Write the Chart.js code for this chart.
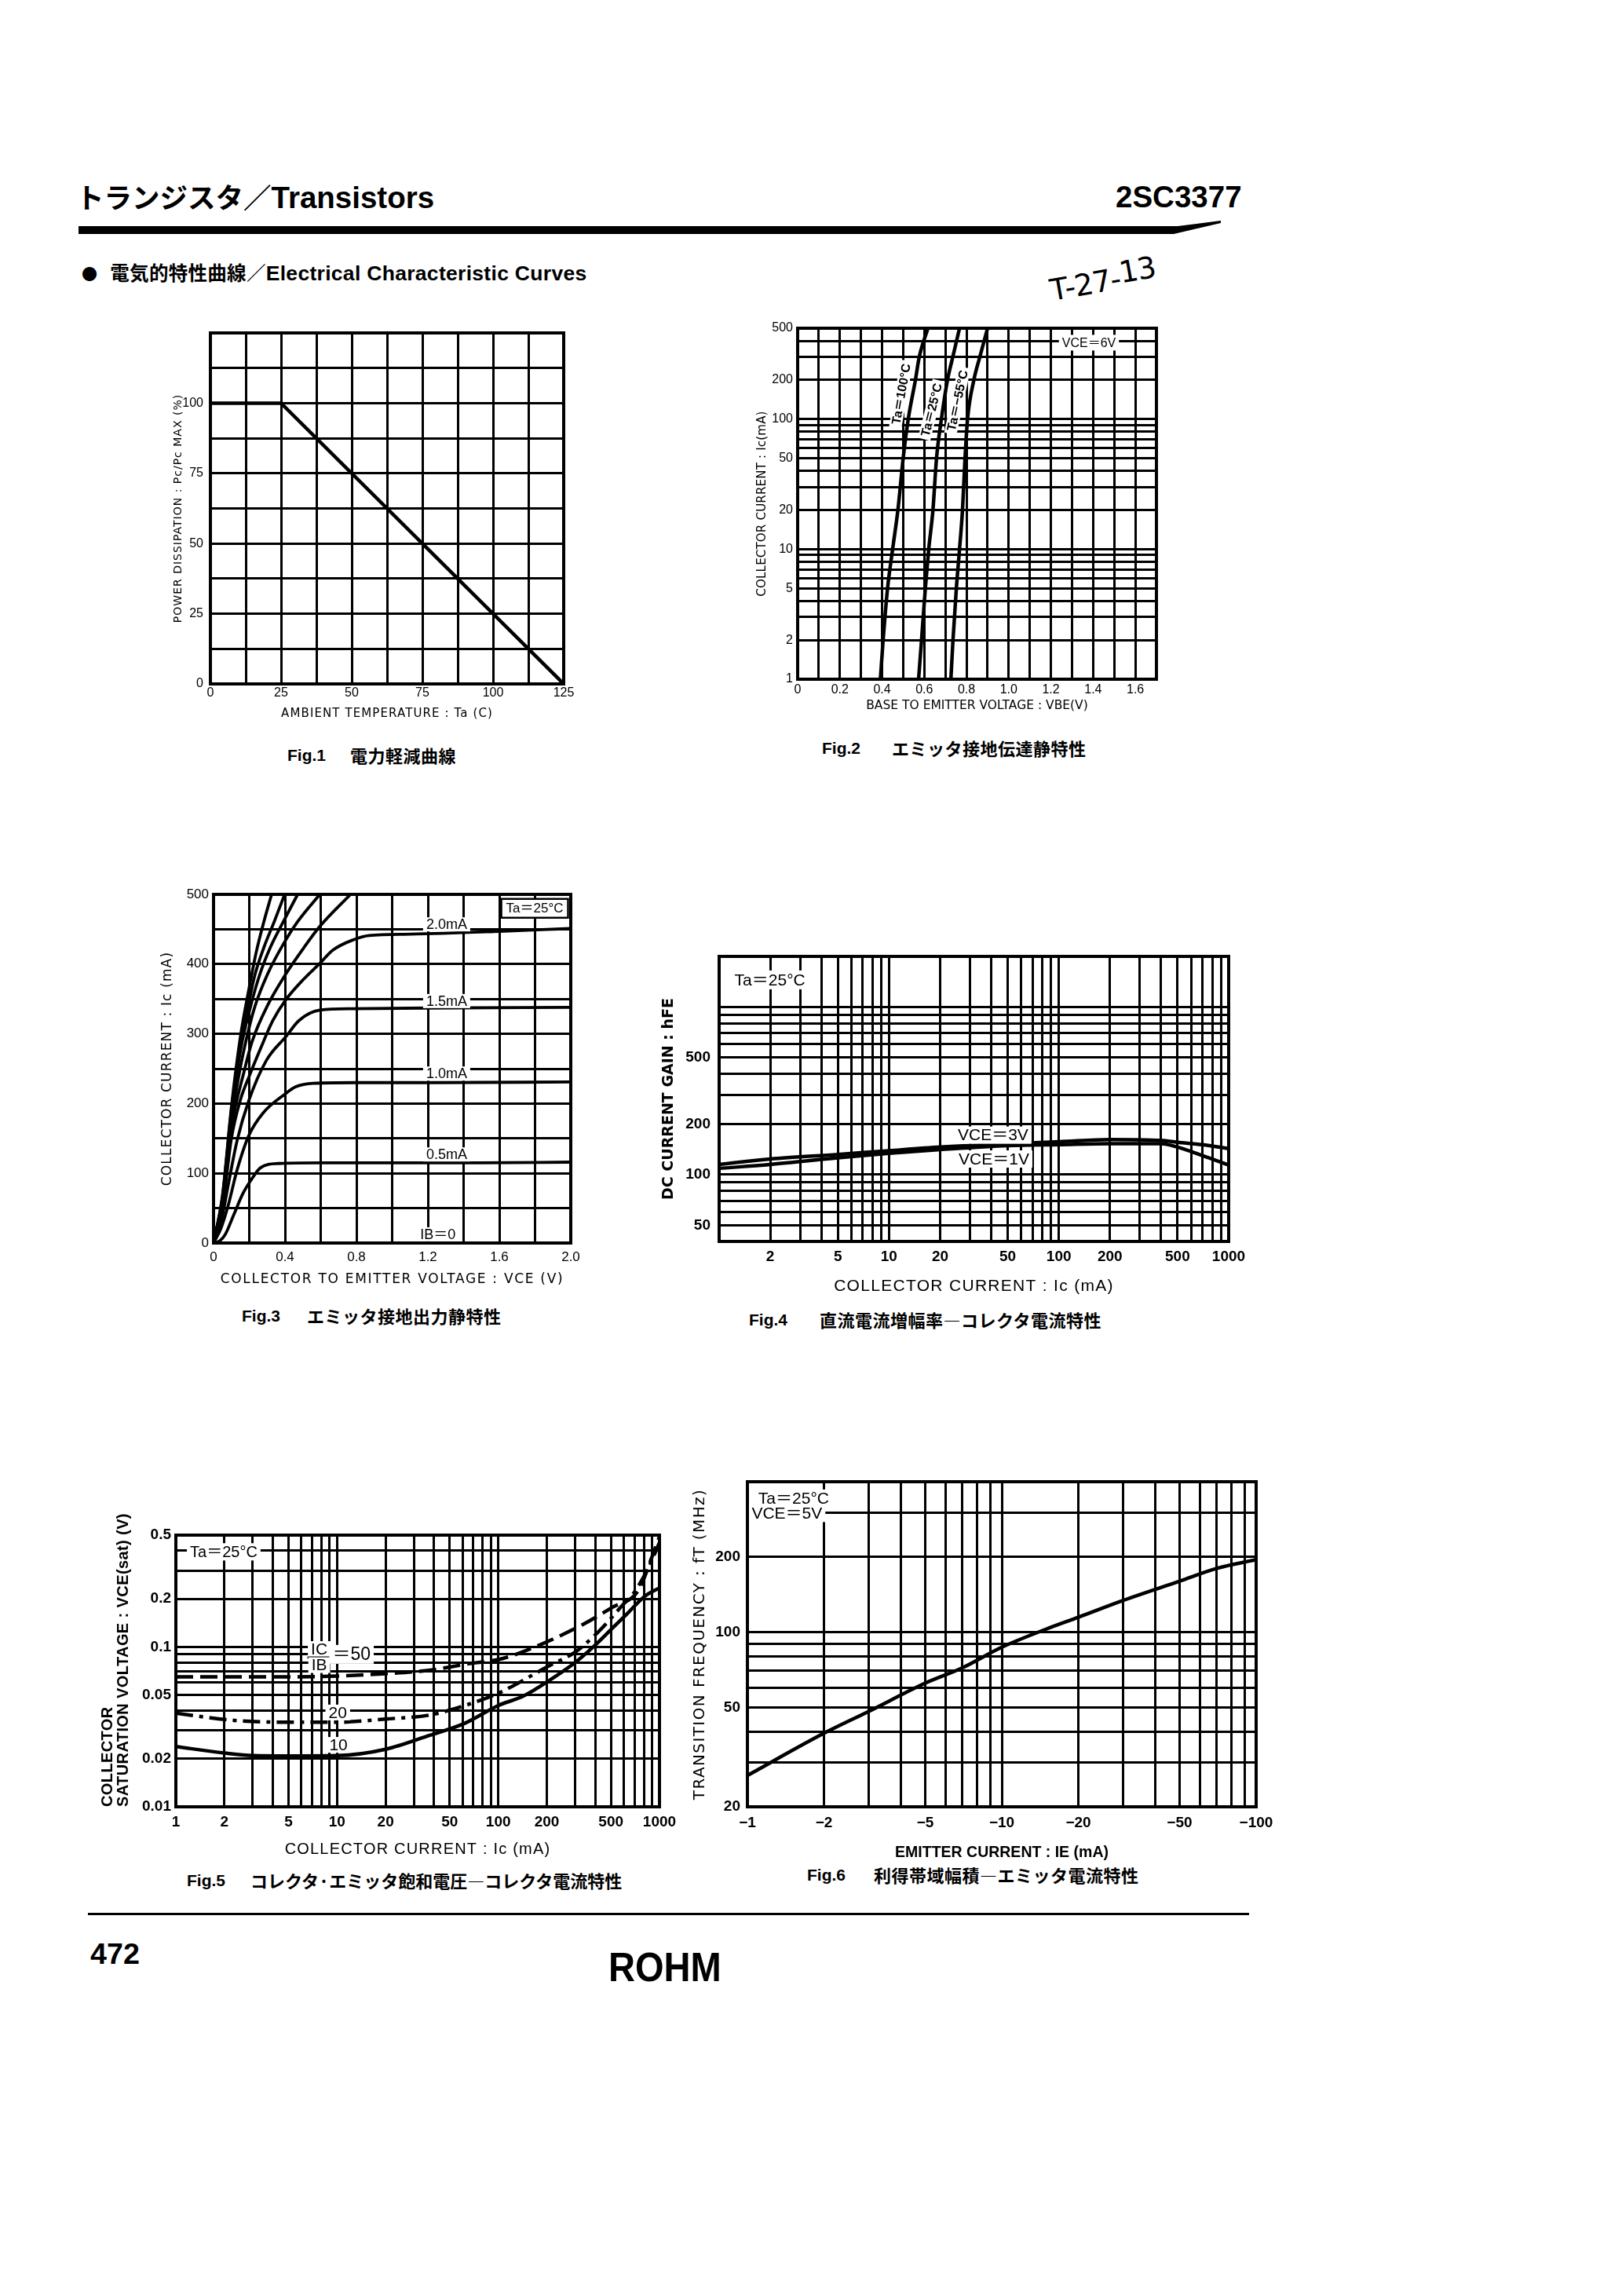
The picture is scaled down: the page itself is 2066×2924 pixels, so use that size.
<!DOCTYPE html>
<html lang="ja">
<head>
<meta charset="UTF-8">
<title>2SC3377 Electrical Characteristic Curves</title>
<script src="https://cdn.jsdelivr.net/npm/chart.js"></script>
<style>
  * { margin: 0; padding: 0; box-sizing: border-box; }
  html, body { width: 2066px; height: 2924px; background: #fff; overflow: hidden; }
  body { position: relative; color: #000; font-family: "Liberation Sans", Arial, "Noto Sans CJK JP", sans-serif; }
  .abs { position: absolute; white-space: nowrap; line-height: 1; }
  .j { font-family: "Noto Sans CJK JP", sans-serif; }
  canvas { position: absolute; }
  .cap { font-weight: bold; font-size: 21px; }
  .cap .j { position: absolute; top: -1px; font-size: 22px; letter-spacing: 0.5px; }
</style>
</head>
<body>

<!-- page header -->
<div class="abs" style="left:97px; top:232px; font-size:38.5px; font-weight:bold;"><span class="j" style="font-size:35.5px;">トランジスタ／</span>Transistors</div>
<div class="abs" style="left:1421px; top:232px; font-size:38.5px; font-weight:bold;">2SC3377</div>
<div class="abs" style="left:100px; top:281px; width:1455px; height:18px; background:#000;
     clip-path: polygon(0 7px, 1400px 7px, 1455px 0, 1455px 3px, 1395px 17px, 0 17px);"></div>
<div class="abs" style="left:104px; top:335px; font-size:26.5px; font-weight:bold; letter-spacing:0.3px;"><span class="j" style="font-size:20px;">●</span><span class="j" style="font-size:24.5px; margin-left:16px;">電気的特性曲線／</span>Electrical Characteristic Curves</div>
<div class="abs" style="left:1341px; top:351px; font-family:'DejaVu Sans', sans-serif; font-size:38px; letter-spacing:-1px; transform-origin:left bottom; transform:rotate(-10deg);">T-27-<span style="position:relative; top:-7px;">13</span></div>

<!-- figure captions -->
<div class="abs cap" style="left:366px; top:951px;">Fig.1<span class="j" style="left:80px;">電力軽減曲線</span></div>
<div class="abs cap" style="left:1047px; top:942px;">Fig.2<span class="j" style="left:89px;">エミッタ接地伝達静特性</span></div>
<div class="abs cap" style="left:308px; top:1665px;">Fig.3<span class="j" style="left:83px;">エミッタ接地出力静特性</span></div>
<div class="abs cap" style="left:954px; top:1670px;">Fig.4<span class="j" style="left:90px;">直流電流増幅率―コレクタ電流特性</span></div>
<div class="abs cap" style="left:238px; top:2384px;">Fig.5<span class="j" style="left:81px; letter-spacing:0;">コレクタ·エミッタ飽和電圧―コレクタ電流特性</span></div>
<div class="abs cap" style="left:1028px; top:2377px;">Fig.6<span class="j" style="left:85px;">利得帯域幅積―エミッタ電流特性</span></div>

<!-- page footer -->
<div class="abs" style="left:112px; top:2436px; width:1479px; height:3px; background:#000;"></div>
<div class="abs" style="left:115px; top:2470px; font-size:37.7px; font-weight:bold;">472</div>
<div class="abs" style="left:775px; top:2479px; font-size:52px; font-weight:bold; transform-origin:left top; transform:scaleX(0.905);">ROHM</div>

<script>
// ---------- data ----------

// Fig.1 power derating
const fig1Ta = [0, 25, 125];
const fig1Pd = [100, 100, 0];
const fig1TaTicks = [0, 25, 50, 75, 100, 125];
const fig1PdTicks = [0, 25, 50, 75, 100];

// Fig.2 grounded emitter propagation (Ic vs VBE, VCE = 6V)
const fig2Ic = [1, 2, 5, 10, 20, 50, 100, 200, 300, 500];
const fig2Vbe100 = [0.392, 0.405, 0.426, 0.45, 0.475, 0.5, 0.524, 0.558, 0.576, 0.617];
const fig2Vbe25 = [0.573, 0.587, 0.605, 0.621, 0.641, 0.658, 0.681, 0.71, 0.735, 0.767];
const fig2VbeM55 = [0.726, 0.736, 0.752, 0.767, 0.781, 0.793, 0.805, 0.835, 0.863, 0.9];
const fig2VbeTicks = [0, 0.2, 0.4, 0.6, 0.8, 1.0, 1.2, 1.4, 1.6];
const fig2IcTicks = [1, 2, 5, 10, 20, 50, 100, 200, 500];

// Fig.3 grounded emitter output (Ic vs VCE), one pair of arrays per base current
const fig3V05 = [0, 0.035, 0.066, 0.115, 0.164, 0.213, 0.263, 0.361, 0.6, 1.0, 1.5, 2.0];
const fig3I05 = [0, 3, 12.5, 41.6, 70.7, 91.5, 108, 114, 115, 115, 115, 116];
const fig3V10 = [0, 0.041, 0.082, 0.131, 0.197, 0.279, 0.402, 0.46, 0.558, 0.8, 1.2, 2.0];
const fig3I10 = [0, 20.8, 54, 104, 154, 187, 214, 224, 229, 230, 230, 231];
const fig3V15 = [0, 0.041, 0.082, 0.131, 0.197, 0.296, 0.405, 0.478, 0.595, 0.78, 1.2, 2.0];
const fig3I15 = [0, 29, 83, 146, 204, 262, 296, 319, 334, 336, 337, 338];
const fig3V20 = [0, 0.05, 0.1, 0.15, 0.201, 0.26, 0.332, 0.405, 0.507, 0.595, 0.668, 0.784, 0.872, 1.105, 1.6, 2.0];
const fig3I20 = [0, 50, 150, 205, 240, 277, 319, 349, 379, 401, 420, 435, 441, 443, 447, 451];
const fig3VE = [0, 0.05, 0.1, 0.172, 0.216, 0.303, 0.405, 0.507, 0.595, 0.767];
const fig3IE = [0, 58, 165, 247, 289, 341, 386, 424, 454, 500];
const fig3VD = [0, 0.05, 0.1, 0.145, 0.187, 0.23, 0.303, 0.405, 0.471, 0.595];
const fig3ID = [0, 62, 175, 245, 296, 338, 386, 435, 461, 500];
const fig3VC = [0, 0.05, 0.1, 0.15, 0.209, 0.26, 0.318, 0.391, 0.471];
const fig3IC = [0, 64, 185, 275, 341, 386, 424, 461, 500];
const fig3VB = [0, 0.05, 0.1, 0.15, 0.19, 0.23, 0.282, 0.34, 0.398];
const fig3IB = [0, 66, 190, 285, 335, 383, 424, 461, 500];
const fig3VA = [0, 0.05, 0.1, 0.15, 0.201, 0.238, 0.282, 0.325];
const fig3IA = [0, 68, 195, 295, 368, 416, 461, 500];
const fig3VceTicks = [0, 0.4, 0.8, 1.2, 1.6, 2.0];
const fig3IcTicks = [0, 100, 200, 300, 400, 500];

// Fig.4 DC current gain vs collector current
const fig4Ic = [1, 2, 5, 10, 20, 50, 100, 200, 400, 500, 700, 1000];
const fig4Hfe3V = [115, 124, 132, 139, 146, 153, 157, 162, 160, 156, 151, 143];
const fig4Hfe1V = [109, 115, 126, 134, 141, 149, 151, 153, 153, 146, 130, 114];
const fig4IcTicks = [2, 5, 10, 20, 50, 100, 200, 500, 1000];
const fig4HfeTicks = [50, 100, 200, 500];

// Fig.5 collector-emitter saturation voltage vs collector current
const fig5Ic10 = [1, 2, 3, 5, 10, 20, 37.6, 62, 100, 143, 208, 303, 393, 511, 641, 804, 1000];
const fig5Vce10 = [0.0238, 0.0217, 0.0209, 0.0208, 0.0209, 0.0229, 0.028, 0.0333, 0.043, 0.0492, 0.0618, 0.0805, 0.101, 0.131, 0.164, 0.206, 0.234];
const fig5Ic20 = [1, 2.3, 5, 10, 20, 37.6, 62, 100, 201, 303, 379, 474, 594, 688, 850, 1000];
const fig5Vce20 = [0.0385, 0.0347, 0.0338, 0.0338, 0.0354, 0.0375, 0.043, 0.0513, 0.075, 0.0935, 0.113, 0.142, 0.184, 0.215, 0.31, 0.45];
const fig5Ic50 = [1, 2, 5, 10, 20, 37.8, 67.8, 100, 143, 303, 511, 743, 896, 1000];
const fig5Vce50 = [0.065, 0.065, 0.065, 0.0657, 0.068, 0.0715, 0.0789, 0.0833, 0.0935, 0.131, 0.177, 0.227, 0.363, 0.49];
const fig5IcTicks = [1, 2, 5, 10, 20, 50, 100, 200, 500, 1000];
const fig5VceTicks = [0.01, 0.02, 0.05, 0.1, 0.2, 0.5];

// Fig.6 transition frequency vs emitter current (shown as negative mA)
const fig6Ie = [1, 2, 3, 5, 7, 10, 15, 20, 30, 50, 70, 100];
const fig6Ft = [26.7, 39.4, 48.2, 62.5, 72, 87, 103, 114.7, 134, 160, 180, 195];
const fig6IeTicks = [1, 2, 5, 10, 20, 50, 100];
const fig6FtTicks = [20, 50, 100, 200];

// ---------- helpers ----------
const NARROW = '"Liberation Sans Narrow", "Liberation Sans", sans-serif';
const SANS = '"Liberation Sans", Arial, sans-serif';
const DEJA = '"DejaVu Sans", sans-serif';
const NOTE = (size, w) => (w || 'normal') + ' ' + size + 'px "Liberation Sans Narrow", "Liberation Sans", "Noto Sans CJK JP", sans-serif';
const PAD_R = 40;

const pts = (xs, ys) => xs.map((x, i) => ({ x: x, y: ys[i] }));

function linGrid(min, max, step) {
    const out = [];
    for (let i = 0; min + i * step <= max + 1e-9; i++) out.push(+(min + i * step).toFixed(6));
    return out;
}
function logGrid(min, max) {
    const out = [];
    for (let e = Math.floor(Math.log10(min)); e <= Math.ceil(Math.log10(max)); e++) {
        for (let k = 1; k <= 9; k++) {
            const v = +(k * Math.pow(10, e)).toPrecision(8);
            if (v >= min * (1 - 1e-9) && v <= max * (1 + 1e-9)) out.push(v);
        }
    }
    return out;
}
function labelIf(list, fmt) {
    return function (v) {
        const hit = list.find(l => Math.abs(v - l) <= Math.abs(l) * 1e-6 + 1e-9);
        return hit === undefined ? '' : (fmt ? fmt(hit) : String(hit));
    };
}

// text annotations placed in data coordinates
function notes(items) {
    return {
        id: 'notes',
        afterDatasetsDraw(chart) {
            const c = chart.ctx, sx = chart.scales.x, sy = chart.scales.y;
            items.forEach(n => {
                c.save();
                c.translate(sx.getPixelForValue(n.x), sy.getPixelForValue(n.y));
                if (n.rot) c.rotate(n.rot * Math.PI / 180);
                c.fillStyle = '#000';
                if (n.rule) {
                    c.fillRect(-n.rule / 2, -1.5, n.rule, 3);
                } else {
                    c.font = n.font;
                    c.textAlign = 'center';
                    c.textBaseline = 'middle';
                    const w = c.measureText(n.text).width, h = n.h || 22;
                    if (n.bg) { c.fillStyle = '#fff'; c.fillRect(-w / 2 - 4, -h / 2, w + 8, h); }
                    if (n.box) {
                        c.strokeStyle = '#000'; c.lineWidth = 2.5;
                        c.strokeRect(-w / 2 - 6, -h / 2, w + 12, h);
                    }
                    c.fillStyle = '#000';
                    c.fillText(n.text, 0, 1);
                }
                c.restore();
            });
        }
    };
}

// heavy frame round the plot area
const frame = {
    id: 'frame',
    afterDraw(chart) {
        const a = chart.chartArea, c = chart.ctx;
        c.save();
        c.strokeStyle = '#000';
        c.lineWidth = 4;
        c.strokeRect(a.left, a.top, a.right - a.left, a.bottom - a.top);
        c.restore();
    }
};

// axis titles in the datasheet are letter-spaced; some run past the plot height
function tuneTitle(s, ls, room) {
    if ((!ls && !room) || s._tuned) return;
    s._tuned = true;
    const orig = s.drawTitle;
    s.drawTitle = function () {
        const c = this.ctx, prev = c.letterSpacing, top = this.top;
        if (ls) c.letterSpacing = ls + 'px';
        if (room) this.top = top - room;
        orig.call(this);
        this.top = top;
        c.letterSpacing = prev || '0px';
    };
}

function axis(o) {
    return {
        type: o.type,
        min: o.min,
        max: o.max,
        grid: { color: '#000', lineWidth: o.gw || 3, drawTicks: false },
        border: { display: false },
        afterBuildTicks: s => { s.ticks = o.grid.map(v => ({ value: v })); },
        ticks: {
            autoSkip: false, maxRotation: 0, minRotation: 0,
            padding: o.pad, color: '#000',
            font: { family: o.tfam || NARROW, size: o.ts, weight: o.tw || 'normal', lineHeight: 1.2 },
            callback: labelIf(o.labels, o.fmt)
        },
        title: {
            display: true, text: o.title, color: '#000', padding: 0, align: o.align || 'center',
            font: { family: o.family, size: o.size, weight: o.weight || 'normal', lineHeight: o.lh || 1.2 }
        }
    };
}

// box: plot area in page pixels and where the axis titles sit
function makeChart(box, x, y, datasets, items) {
    const padT = box.pt || 24;
    const padL = Math.round(box.l - box.yTitleX + y.size * (y.lh || 1.2) / 2);
    const padB = Math.round(box.xTitleY + x.size * (x.lh || 1.2) / 2 - (box.t + box.h));
    const W = box.w + padL + PAD_R, H = box.h + padT + padB;
    const cv = document.createElement('canvas');
    cv.width = W; cv.height = H;
    cv.style.left = (box.l - padL) + 'px';
    cv.style.top = (box.t - padT) + 'px';
    cv.style.width = W + 'px';
    cv.style.height = H + 'px';
    document.body.appendChild(cv);

    const xs = axis(x), ys = axis(y);
    xs.afterFit = s => { s.height = padB; tuneTitle(s, x.tls, 0); };
    ys.afterFit = s => { s.width = padL; tuneTitle(s, y.tls, y.room || 0); };

    return new Chart(cv, {
        type: 'line',
        data: { datasets: datasets },
        options: {
            responsive: false,
            animation: false,
            devicePixelRatio: 1,
            layout: { padding: { top: padT, right: PAD_R, left: 0, bottom: 0 } },
            plugins: { legend: { display: false }, tooltip: { enabled: false } },
            elements: {
                point: { radius: 0, hoverRadius: 0 },
                line: { borderColor: '#000', borderWidth: 4.5, cubicInterpolationMode: 'monotone', fill: false }
            },
            scales: { x: xs, y: ys }
        },
        plugins: [notes(items || []), frame]
    });
}

const dec1 = l => (l === 0 ? '0' : l.toFixed(1));

// ---------- Fig.1 ----------
makeChart(
    { l: 268, t: 424, w: 450, h: 447, yTitleX: 227, xTitleY: 909 },
    { type: 'linear', min: 0, max: 125, grid: linGrid(0, 125, 12.5), labels: fig1TaTicks, ts: 16, pad: 2,
      title: 'AMBIENT TEMPERATURE : Ta (C)', family: DEJA, size: 15, tls: 1.1 },
    { type: 'linear', min: 0, max: 125, grid: linGrid(0, 125, 12.5), labels: fig1PdTicks, ts: 16, pad: 9,
      title: 'POWER DISSIPATION : Pc/Pc MAX (%)', family: DEJA, size: 14, tls: 1.0 },
    [{ data: pts(fig1Ta, fig1Pd), cubicInterpolationMode: 'default', tension: 0, borderWidth: 4.5 }]
);

// ---------- Fig.2 ----------
makeChart(
    { l: 1016, t: 418, w: 457, h: 447, yTitleX: 971, xTitleY: 899 },
    { type: 'linear', min: 0, max: 1.7, grid: linGrid(0, 1.7, 0.1), labels: fig2VbeTicks, fmt: dec1, ts: 16, pad: 4,
      title: 'BASE TO EMITTER VOLTAGE : VBE(V)', family: DEJA, size: 15.5 },
    { type: 'logarithmic', min: 1, max: 500, grid: logGrid(1, 500), labels: fig2IcTicks, ts: 16, pad: 6,
      title: 'COLLECTOR CURRENT : Ic(mA)', family: DEJA, size: 15, tls: 0.2 },
    [
        { data: pts(fig2Vbe100, fig2Ic) },
        { data: pts(fig2Vbe25, fig2Ic) },
        { data: pts(fig2VbeM55, fig2Ic) }
    ],
    [
        { x: 1.38, y: 387, text: 'VCE＝6V', font: NOTE(16), bg: true, h: 20 },
        { x: 0.49, y: 156, text: 'Ta＝100°C', font: NOTE(16, 'bold'), rot: -80, bg: true, h: 16 },
        { x: 0.634, y: 118, text: 'Ta＝25°C', font: NOTE(16, 'bold'), rot: -76, bg: true, h: 16 },
        { x: 0.757, y: 139, text: 'Ta＝−55°C', font: NOTE(16, 'bold'), rot: -78, bg: true, h: 16 }
    ]
);

// ---------- Fig.3 ----------
makeChart(
    { l: 272, t: 1139, w: 455, h: 444, yTitleX: 213, xTitleY: 1630 },
    { type: 'linear', min: 0, max: 2, grid: linGrid(0, 2, 0.2), labels: fig3VceTicks, fmt: dec1, ts: 17, pad: 8,
      title: 'COLLECTOR TO EMITTER VOLTAGE : VCE (V)', family: DEJA, size: 17, tls: 1.7 },
    { type: 'linear', min: 0, max: 500, grid: linGrid(0, 500, 50), labels: fig3IcTicks, ts: 17, pad: 6,
      title: 'COLLECTOR CURRENT : Ic (mA)', family: DEJA, size: 17, tls: 1.15 },
    [
        { data: pts(fig3V05, fig3I05), borderWidth: 3.8 },
        { data: pts(fig3V10, fig3I10), borderWidth: 3.8 },
        { data: pts(fig3V15, fig3I15), borderWidth: 3.8 },
        { data: pts(fig3V20, fig3I20), borderWidth: 3.8 },
        { data: pts(fig3VE, fig3IE), borderWidth: 3.8 },
        { data: pts(fig3VD, fig3ID), borderWidth: 3.8 },
        { data: pts(fig3VC, fig3IC), borderWidth: 3.8 },
        { data: pts(fig3VB, fig3IB), borderWidth: 3.8 },
        { data: pts(fig3VA, fig3IA), borderWidth: 3.8 }
    ],
    [
        { x: 1.798, y: 480, text: 'Ta＝25°C', font: NOTE(17), bg: true, box: true, h: 24 },
        { x: 1.305, y: 457, text: '2.0mA', font: NOTE(18), bg: true, h: 18 },
        { x: 1.305, y: 347, text: '1.5mA', font: NOTE(18), bg: true, h: 18 },
        { x: 1.305, y: 243, text: '1.0mA', font: NOTE(18), bg: true, h: 18 },
        { x: 1.305, y: 127, text: '0.5mA', font: NOTE(18), bg: true, h: 18 },
        { x: 1.256, y: 12.5, text: 'IB＝0', font: NOTE(18), bg: true, h: 18 }
    ]
);

// ---------- Fig.4 ----------
makeChart(
    { l: 916, t: 1218, w: 649, h: 363, yTitleX: 852, xTitleY: 1638 },
    { type: 'logarithmic', min: 1, max: 1000, grid: logGrid(1, 1000), labels: fig4IcTicks, ts: 19, tw: 'bold', pad: 8,
      title: 'COLLECTOR CURRENT : Ic (mA)', family: SANS, size: 21, tls: 1.3 },
    { type: 'logarithmic', min: 40, max: 2000, grid: logGrid(40, 2000), labels: fig4HfeTicks, ts: 19, tw: 'bold', pad: 11,
      title: 'DC CURRENT GAIN : hFE', family: DEJA, size: 19, weight: 'bold' },
    [
        { data: pts(fig4Ic, fig4Hfe3V), borderWidth: 4.5 },
        { data: pts(fig4Ic, fig4Hfe1V), borderWidth: 4.5 }
    ],
    [
        { x: 1.99, y: 1449, text: 'Ta＝25°C', font: NOTE(21), bg: true, h: 24 },
        { x: 41, y: 172, text: 'VCE＝3V', font: NOTE(21), bg: true, h: 22 },
        { x: 41.5, y: 124, text: 'VCE＝1V', font: NOTE(21), bg: true, h: 22 }
    ]
);

// ---------- Fig.5 ----------
makeChart(
    { l: 224, t: 1955, w: 616, h: 346, yTitleX: 137, xTitleY: 2355, pt: 48 },
    { type: 'logarithmic', min: 1, max: 1000, grid: logGrid(1, 1000), labels: fig5IcTicks, ts: 19, tw: 'bold', pad: 8,
      title: 'COLLECTOR CURRENT : Ic (mA)', family: SANS, size: 20, tls: 1.2 },
    { type: 'logarithmic', min: 0.01, max: 0.5, grid: logGrid(0.01, 0.5), labels: fig5VceTicks, ts: 19, tw: 'bold', pad: 6,
      title: ['COLLECTOR', 'SATURATION VOLTAGE : VCE(sat) (V)'], family: SANS, size: 20, weight: 'bold', lh: 1.0,
      tls: 0.4, room: 46, align: 'start' },
    [
        { data: pts(fig5Ic50, fig5Vce50), borderDash: [22, 9] },
        { data: pts(fig5Ic20, fig5Vce20), borderDash: [22, 8, 5, 8] },
        { data: pts(fig5Ic10, fig5Vce10) }
    ],
    [
        { x: 1.98, y: 0.393, text: 'Ta＝25°C', font: NOTE(20), bg: true, h: 22 },
        { x: 7.75, y: 0.097, text: 'IC', font: NOTE(21), bg: true, h: 20 },
        { x: 7.75, y: 0.0857, rule: 30 },
        { x: 7.75, y: 0.0769, text: 'IB', font: NOTE(21), bg: true, h: 20 },
        { x: 12.3, y: 0.0898, text: '＝50', font: NOTE(23), bg: true, h: 24 },
        { x: 10.1, y: 0.0389, text: '20', font: NOTE(21), bg: true, h: 20 },
        { x: 10.2, y: 0.0244, text: '10', font: NOTE(21), bg: true, h: 20 }
    ]
);

// ---------- Fig.6 ----------
makeChart(
    { l: 952, t: 1887, w: 648, h: 414, yTitleX: 892, xTitleY: 2359 },
    { type: 'logarithmic', min: 1, max: 100, grid: logGrid(1, 100), labels: fig6IeTicks, fmt: l => '−' + l, ts: 19, tw: 'bold', pad: 9,
      title: 'EMITTER CURRENT : IE (mA)', family: SANS, size: 19.5, weight: 'bold' },
    { type: 'logarithmic', min: 20, max: 400, grid: logGrid(20, 400), labels: fig6FtTicks, ts: 19, tw: 'bold', pad: 9,
      title: 'TRANSITION FREQUENCY : fT (MHz)', family: DEJA, size: 20, tls: 1.4 },
    [{ data: pts(fig6Ie, fig6Ft) }],
    [
        { x: 1.52, y: 344, text: 'Ta＝25°C', font: NOTE(21), bg: true, h: 22 },
        { x: 1.43, y: 298.6, text: 'VCE＝5V', font: NOTE(21), bg: true, h: 22 }
    ]
);
</script>
</body>
</html>
